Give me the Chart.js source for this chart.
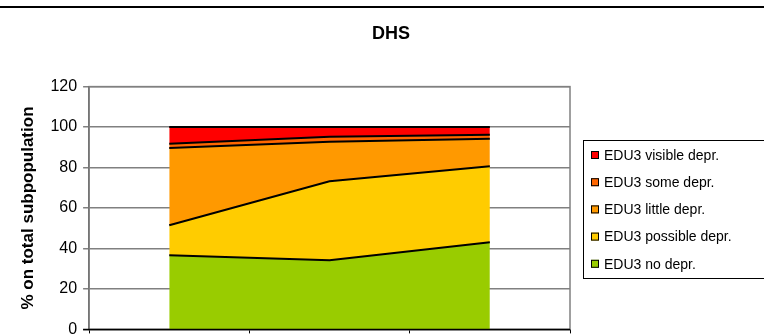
<!DOCTYPE html>
<html>
<head>
<meta charset="utf-8">
<script src="https://cdn.jsdelivr.net/npm/chart.js@4.4.1/dist/chart.umd.min.js"></script>
<style>
  html, body { margin: 0; padding: 0; background: #fff; overflow: hidden; }
  #wrap { position: relative; width: 764px; height: 334px; overflow: hidden; }
  #topline { position: absolute; left: 0; top: 6px; width: 764px; height: 2px; background: #000; }
  #chart { position: absolute; left: 0; top: 0; }
</style>
</head>
<body>
<div id="wrap">
  <canvas id="chart" width="764" height="345"></canvas>
  <div id="topline"></div>
</div>
<script>
// categories (labels sit below the visible area)
const categories = ["Round 1", "Round 2", "Round 3"];

// stacked shares, bottom layer first
const noDepr       = [36.7, 34.2, 43.1];
const possibleDepr = [14.8, 39.0, 37.5];
const littleDepr   = [38.2, 19.5, 13.6];
const someDepr     = [2.0, 2.5, 2.0];
const visibleDepr  = [8.3, 4.8, 3.8];

const seriesNames  = ["EDU3 no depr.", "EDU3 possible depr.", "EDU3 little depr.", "EDU3 some depr.", "EDU3 visible depr."];
const seriesColors = ["#99CC00", "#FFCC00", "#FF9900", "#FF6600", "#FF0000"];
const yTicks = [0, 20, 40, 60, 80, 100, 120];

const seriesData = [noDepr, possibleDepr, littleDepr, someDepr, visibleDepr];
const FONT = "'Liberation Sans', Arial, sans-serif";

const datasets = seriesData.map((d, i) => ({
  label: seriesNames[i],
  data: d,
  backgroundColor: seriesColors[i],
  borderColor: "#000",
  borderWidth: 2,
  fill: i === 0 ? "origin" : "-1",
  pointRadius: 0,
  tension: 0
}));

// grey frame round the plot area, black base line on top of the areas
const plotFrame = {
  id: "plotFrame",
  beforeDatasetsDraw(chart) {
    const { ctx, chartArea: a } = chart;
    ctx.save();
    ctx.strokeStyle = "#808080";
    ctx.lineWidth = 1.5;
    ctx.strokeRect(a.left, a.top, a.right - a.left, a.bottom - a.top);
    ctx.restore();
  },
  afterDatasetsDraw(chart) {
    const { ctx, chartArea: a } = chart;
    ctx.save();
    ctx.strokeStyle = "#000";
    ctx.lineWidth = 1.5;
    ctx.beginPath();
    ctx.moveTo(a.left - 6, a.bottom);
    ctx.lineTo(a.right, a.bottom);
    ctx.stroke();
    ctx.restore();
  }
};

// boxed legend on the right, top series first
const boxLegend = {
  id: "boxLegend",
  afterDraw(chart) {
    const { ctx } = chart;
    const x = 583, y = 140, w = 200, h = 138, step = 27.2;
    ctx.save();
    ctx.fillStyle = "#fff";
    ctx.fillRect(x, y, w, h);
    ctx.strokeStyle = "#000";
    ctx.lineWidth = 1;
    ctx.strokeRect(x + 0.5, y + 0.5, w, h);
    ctx.font = "14px " + FONT;
    ctx.textBaseline = "middle";
    const ds = chart.data.datasets.slice().reverse();
    ds.forEach((d, i) => {
      const cy = y + 15 + i * step;
      ctx.fillStyle = d.backgroundColor;
      ctx.fillRect(591, cy - 4, 8, 8);
      ctx.strokeStyle = "#000";
      ctx.strokeRect(591.5, cy - 3.5, 7, 7);
      ctx.fillStyle = "#000";
      ctx.fillText(d.label, 604, cy + 1);
    });
    ctx.restore();
  }
};

new Chart(document.getElementById("chart"), {
  type: "line",
  data: { labels: categories, datasets: datasets },
  options: {
    responsive: false,
    animation: false,
    layout: { padding: { left: 18, right: 0, top: 0, bottom: 0 } },
    plugins: {
      legend: { display: false },
      tooltip: { enabled: false },
      title: {
        display: true,
        text: "DHS",
        color: "#000",
        font: { family: FONT, size: 18, weight: "bold" },
        padding: { top: 23, bottom: 42 }
      }
    },
    scales: {
      x: {
        offset: true,
        grid: { offset: true, drawOnChartArea: false, drawTicks: true, tickLength: 4, color: "#000", lineWidth: 1 },
        border: { display: false },
        ticks: { display: false }
      },
      y: {
        stacked: true,
        min: 0,
        max: 120,
        afterBuildTicks(scale) { scale.ticks = yTicks.map(v => ({ value: v })); },
        grid: { color: "#808080", lineWidth: 1.5, tickLength: 6, drawTicks: true },
        border: { display: true, color: "#606060", width: 1.5 },
        ticks: {
          color: "#000",
          padding: 6,
          font: { family: FONT, size: 16 }
        },
        title: {
          display: true,
          text: "% on total subpopulation",
          color: "#000",
          padding: { top: 0, bottom: 6 },
          font: { family: FONT, size: 17, weight: "bold" }
        }
      },
      // empty strip on the right that holds the legend box
      legendSpace: {
        type: "linear",
        position: "right",
        afterFit(scale) { scale.width = 194; },
        grid: { display: false },
        border: { display: false },
        ticks: { display: false }
      }
    }
  },
  plugins: [plotFrame, boxLegend]
});
</script>
</body>
</html>
